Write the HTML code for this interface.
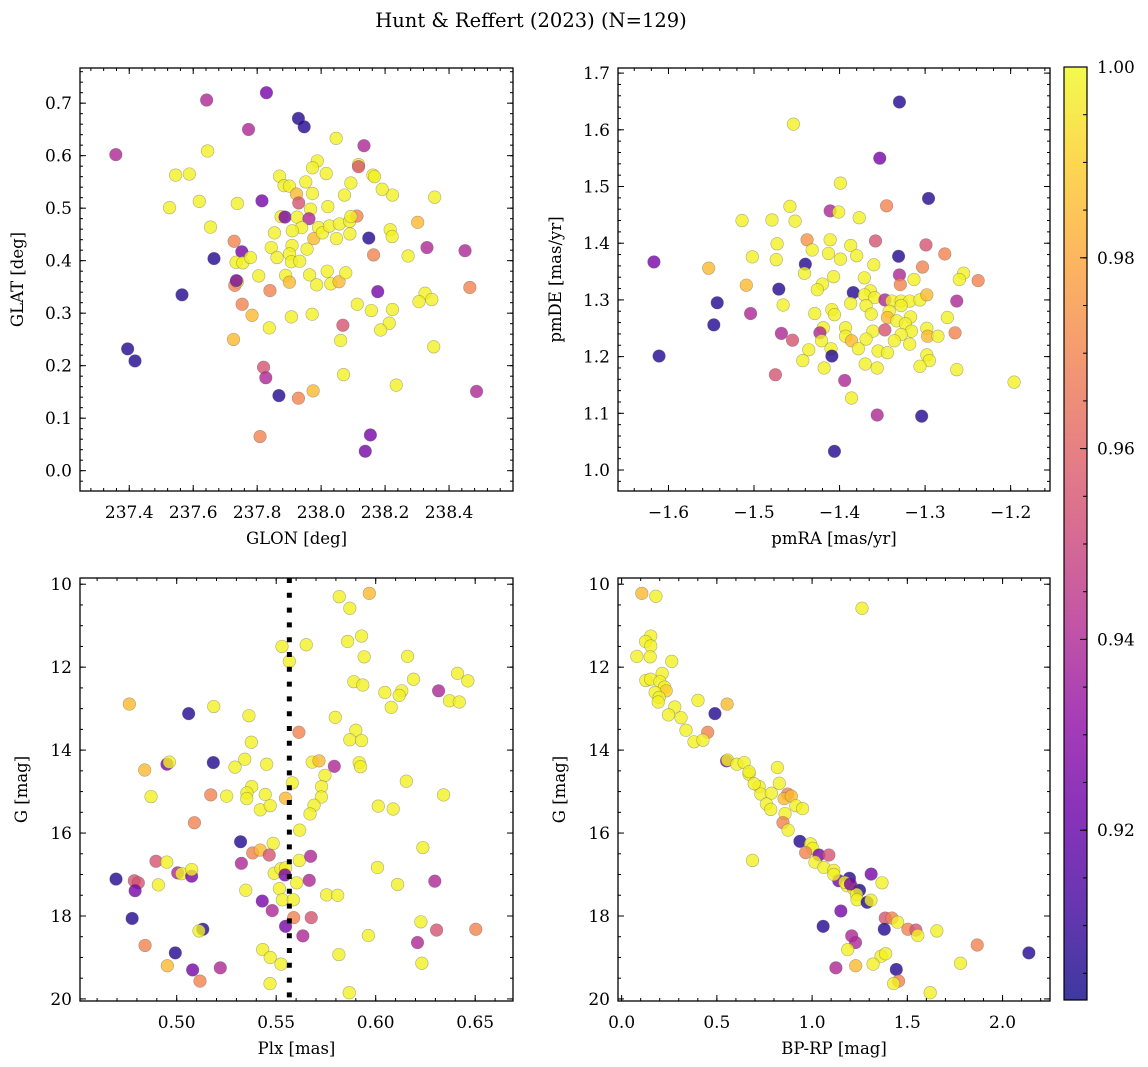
<!DOCTYPE html>
<html><head><meta charset="utf-8"><style>
html,body{margin:0;padding:0;background:#fff;}
svg{display:block;font-family:"DejaVu Serif","Liberation Serif",serif;}
</style></head><body>
<svg id="fig" width="1148" height="1067" viewBox="0 0 1148 1067" xmlns="http://www.w3.org/2000/svg">
<defs>
<linearGradient id="cbg" x1="0" y1="1" x2="0" y2="0">
<stop offset="0" stop-color="#0d0887"/><stop offset="0.1" stop-color="#41049d"/><stop offset="0.2" stop-color="#6a00a8"/><stop offset="0.3" stop-color="#8f0da4"/><stop offset="0.4" stop-color="#b12a90"/><stop offset="0.5" stop-color="#cc4778"/><stop offset="0.6" stop-color="#e16462"/><stop offset="0.7" stop-color="#f2844b"/><stop offset="0.8" stop-color="#fca636"/><stop offset="0.9" stop-color="#fcce25"/><stop offset="1" stop-color="#f0f921"/>
</linearGradient>
</defs>
<text x="531" y="27" font-size="19.5" text-anchor="middle">Hunt &amp; Reffert (2023) (N=129)</text>
</svg>
<script>
// ---- data ----
const tlLon=[237.358,237.642,237.829,237.773,237.929,237.947,238.047,238.134,237.645,237.545,237.588,237.526,237.619,237.654,237.665,237.565,237.395,237.418,237.738,237.815,237.728,237.752,237.734,237.755,237.779,237.730,237.738,237.805,237.840,237.753,237.784,237.838,237.726,237.907,237.972,237.820,237.827,237.868,237.929,237.975,237.809,238.154,238.138,238.070,238.061,238.068,238.235,238.486,238.352,238.465,238.450,238.331,238.272,238.355,238.302,238.223,238.191,238.162,238.167,238.117,238.117,238.093,238.073,238.016,237.988,237.973,237.952,237.870,237.884,237.901,237.923,237.930,237.973,237.967,238.021,237.875,237.887,237.925,237.962,237.939,237.910,237.854,237.992,237.977,238.004,238.026,238.057,238.089,238.112,238.093,238.090,238.048,238.149,238.216,238.222,238.164,238.177,238.113,238.157,238.223,238.213,238.186,238.325,238.306,238.346,237.844,237.909,237.901,237.862,237.907,237.933,237.956,237.889,237.901,237.964,237.986,238.019,238.030,238.056,238.077,237.735];
const tlLat=[0.602,0.706,0.720,0.650,0.671,0.655,0.633,0.619,0.609,0.563,0.565,0.501,0.513,0.464,0.404,0.335,0.232,0.209,0.509,0.514,0.437,0.417,0.397,0.396,0.406,0.353,0.360,0.371,0.343,0.317,0.296,0.272,0.250,0.293,0.298,0.197,0.177,0.143,0.138,0.152,0.065,0.068,0.037,0.183,0.248,0.277,0.163,0.151,0.236,0.349,0.419,0.425,0.409,0.521,0.473,0.525,0.536,0.563,0.560,0.583,0.579,0.548,0.525,0.566,0.590,0.577,0.550,0.561,0.543,0.542,0.527,0.510,0.528,0.498,0.503,0.484,0.483,0.483,0.480,0.463,0.457,0.453,0.463,0.442,0.453,0.466,0.470,0.475,0.485,0.484,0.451,0.442,0.443,0.459,0.446,0.411,0.341,0.317,0.305,0.307,0.281,0.268,0.338,0.322,0.326,0.425,0.429,0.413,0.406,0.398,0.399,0.422,0.372,0.359,0.373,0.354,0.380,0.356,0.360,0.377,0.362];
const tlProb=[.94,.94,.925,.94,.906,.906,.998,.94,.998,.998,.998,.998,.998,.998,.906,.906,.906,.906,.998,.925,.97,.925,.998,.998,.998,.97,.998,.998,.97,.97,.985,.998,.985,.998,.998,.955,.94,.906,.97,.985,.97,.925,.925,.998,.998,.955,.998,.94,.998,.97,.94,.94,.998,.998,.985,.998,.998,.998,.998,.998,.955,.998,.998,.998,.998,.998,.998,.998,.998,.998,.985,.955,.998,.998,.998,.998,.925,.998,.94,.998,.998,.998,.998,.985,.998,.998,.998,.998,.97,.998,.998,.998,.906,.998,.998,.97,.925,.998,.998,.998,.998,.998,.998,.998,.998,.998,.998,.998,.998,.998,.998,.998,.998,.985,.998,.998,.998,.998,.985,.998,.925];

const trRA=[-1.330,-1.454,-1.353,-1.399,-1.296,-1.345,-1.458,-1.411,-1.401,-1.377,-1.514,-1.479,-1.452,-1.438,-1.411,-1.432,-1.473,-1.502,-1.474,-1.617,-1.553,-1.413,-1.399,-1.387,-1.380,-1.358,-1.331,-1.299,-1.277,-1.360,-1.303,-1.440,-1.441,-1.407,-1.330,-1.371,-1.329,-1.313,-1.255,-1.260,-1.238,-1.509,-1.471,-1.420,-1.426,-1.384,-1.364,-1.371,-1.359,-1.347,-1.339,-1.328,-1.318,-1.306,-1.298,-1.263,-1.543,-1.466,-1.387,-1.369,-1.328,-1.342,-1.409,-1.406,-1.429,-1.504,-1.317,-1.344,-1.333,-1.274,-1.547,-1.419,-1.393,-1.323,-1.316,-1.361,-1.423,-1.468,-1.347,-1.328,-1.298,-1.297,-1.285,-1.265,-1.455,-1.421,-1.393,-1.386,-1.369,-1.336,-1.410,-1.436,-1.378,-1.355,-1.344,-1.318,-1.409,-1.298,-1.295,-1.611,-1.443,-1.370,-1.356,-1.418,-1.306,-1.263,-1.196,-1.475,-1.394,-1.386,-1.356,-1.304,-1.406,-1.363];
const trDE=[1.649,1.610,1.550,1.506,1.479,1.466,1.465,1.457,1.455,1.445,1.440,1.441,1.439,1.406,1.406,1.388,1.399,1.376,1.371,1.367,1.356,1.382,1.372,1.396,1.378,1.404,1.377,1.397,1.381,1.362,1.358,1.363,1.347,1.341,1.344,1.339,1.327,1.336,1.347,1.336,1.334,1.326,1.319,1.328,1.318,1.313,1.316,1.309,1.304,1.300,1.298,1.298,1.298,1.300,1.309,1.298,1.295,1.291,1.294,1.290,1.290,1.280,1.283,1.274,1.276,1.276,1.270,1.269,1.263,1.269,1.256,1.251,1.251,1.258,1.245,1.245,1.242,1.241,1.247,1.239,1.250,1.236,1.236,1.242,1.229,1.228,1.236,1.228,1.231,1.228,1.214,1.212,1.214,1.210,1.207,1.222,1.201,1.203,1.193,1.201,1.193,1.187,1.180,1.180,1.183,1.177,1.155,1.168,1.158,1.127,1.097,1.095,1.033,1.275];
const trProb=[.906,.998,.925,.998,.906,.97,.998,.94,.998,.998,.998,.998,.998,.975,.998,.998,.998,.998,.998,.925,.985,.998,.998,.998,.998,.955,.906,.955,.97,.998,.97,.906,.998,.998,.94,.998,.97,.998,.998,.998,.97,.985,.906,.998,.998,.906,.998,.998,.998,.94,.998,.998,.998,.998,.985,.94,.906,.998,.998,.998,.998,.998,.998,.998,.998,.94,.998,.985,.998,.998,.906,.998,.998,.998,.998,.998,.94,.94,.955,.998,.998,.985,.998,.97,.955,.998,.998,.985,.998,.998,.998,.998,.998,.998,.998,.998,.906,.998,.998,.906,.998,.998,.998,.998,.998,.998,.998,.955,.94,.998,.94,.906,.906,.998];

const blPlx=[.5817,.5968,.5870,.5859,.5929,.5942,.5529,.5651,.5566,.6160,.6190,.6411,.6463,.5890,.5935,.6046,.6131,.6118,.6078,.6316,.6371,.6420,.4762,.5060,.5186,.5363,.5797,.5375,.5614,.5900,.5870,.5929,.4951,.4963,.4839,.5184,.5293,.5342,.5452,.5681,.5715,.5792,.5917,.5924,.5745,.5581,.6154,.4871,.5171,.5251,.5377,.5353,.5352,.5445,.5420,.5470,.5547,.5728,.5727,.5690,.5670,.6013,.6088,.6341,.5089,.5618,.5321,.5485,.5382,.5420,.5465,.5325,.5616,.5673,.6237,.4896,.4950,.4695,.4787,.4807,.4791,.4908,.5005,.5025,.5075,.5075,.5490,.5524,.5547,.5544,.5603,.5666,.6009,.6110,.6297,.5347,.5516,.5430,.5531,.5586,.5753,.5809,.5480,.4776,.5588,.5676,.5547,.5131,.5112,.5634,.5963,.6227,.6306,.6503,.6210,.4841,.4993,.5432,.5470,.5524,.5815,.6232,.4953,.5080,.5219,.5117,.5469,.5867];
const blG=[10.30,10.22,10.58,11.38,11.25,11.75,11.50,11.46,11.86,11.74,12.29,12.15,12.33,12.35,12.43,12.61,12.57,12.68,12.97,12.57,12.81,12.84,12.89,13.12,12.95,13.17,13.21,13.81,13.57,13.52,13.75,13.77,14.34,14.29,14.48,14.30,14.41,14.22,14.34,14.29,14.26,14.39,14.30,14.40,14.61,14.79,14.75,15.12,15.08,15.11,14.88,15.03,15.17,15.07,15.44,15.34,15.16,14.88,15.13,15.33,15.54,15.35,15.42,15.08,15.75,15.93,16.21,16.25,16.48,16.41,16.53,16.73,16.66,16.56,16.35,16.68,16.70,17.11,17.15,17.20,17.39,17.25,16.96,16.98,17.04,16.88,16.97,16.86,16.84,17.01,17.20,17.14,16.83,17.24,17.16,17.38,17.34,17.64,17.61,17.61,17.49,17.50,17.87,18.06,18.04,18.04,18.25,18.32,18.36,18.48,18.47,18.14,18.34,18.32,18.64,18.71,18.89,18.81,19.00,19.16,18.93,19.14,19.20,19.30,19.25,19.57,19.63,19.85];
const blProb=[.998,.985,.998,.998,.998,.998,.998,.998,.998,.998,.998,.998,.998,.998,.998,.998,.998,.998,.998,.94,.998,.998,.985,.906,.998,.998,.998,.998,.97,.998,.998,.998,.925,.998,.985,.906,.998,.998,.998,.998,.985,.94,.998,.998,.998,.998,.998,.998,.97,.998,.998,.998,.998,.998,.998,.998,.985,.998,.998,.998,.998,.998,.998,.998,.97,.998,.906,.998,.97,.985,.955,.94,.998,.94,.998,.955,.998,.906,.955,.955,.925,.998,.94,.998,.925,.998,.998,.998,.998,.925,.998,.94,.998,.998,.94,.998,.998,.925,.998,.998,.998,.998,.94,.906,.97,.955,.925,.906,.998,.94,.998,.998,.955,.97,.94,.97,.906,.998,.998,.998,.998,.998,.985,.925,.94,.97,.998,.998];
const plxRef=[0.5566];

const brColor=[.106,.180,1.262,.153,.126,.153,.080,.150,.263,.213,.127,.152,.201,.225,.234,.176,.197,.192,.401,.554,.490,.279,.246,.312,.338,.452,.380,.427,.551,.556,.605,.643,.669,.818,.722,.828,.731,.786,.872,.853,.891,.760,.783,.915,.950,.858,.847,.874,.936,.992,1.003,.966,1.036,1.088,1.015,.687,1.062,1.114,1.140,1.196,1.114,1.310,1.367,1.184,1.219,1.249,1.233,1.236,1.289,1.309,1.151,1.384,1.419,1.449,1.058,1.379,1.503,1.545,1.555,1.655,1.208,1.228,1.187,1.867,2.138,1.362,1.386,1.320,1.229,1.125,1.442,1.779,1.454,1.428,1.620,1.172,1.201,.696,.669];
const brG=[10.22,10.29,10.58,11.25,11.38,11.49,11.74,11.75,11.86,12.15,12.32,12.29,12.35,12.48,12.57,12.61,12.73,12.84,12.80,12.89,13.12,12.96,13.15,13.22,13.52,13.57,13.80,13.76,14.26,14.24,14.34,14.30,14.58,14.42,14.88,14.80,15.06,15.04,15.06,15.17,15.11,15.30,15.43,15.34,15.41,15.53,15.75,15.93,16.20,16.26,16.37,16.47,16.53,16.53,16.70,16.66,16.83,16.90,17.15,17.09,17.00,16.99,17.20,17.27,17.35,17.38,17.48,17.61,17.67,17.62,17.88,18.05,18.05,18.15,18.25,18.32,18.32,18.34,18.47,18.36,18.48,18.64,18.81,18.70,18.89,18.97,18.91,19.16,19.20,19.25,19.29,19.14,19.57,19.63,19.85,17.19,17.23,14.81,14.52];
const brProb=[.985,.998,.998,.998,.998,.998,.998,.998,.998,.998,.998,.998,.998,.998,.99,.998,.998,.998,.998,.985,.906,.998,.998,.998,.998,.97,.998,.998,.925,.998,.998,.998,.998,.998,.998,.998,.998,.998,.97,.985,.985,.998,.998,.998,.998,.998,.97,.998,.906,.998,.998,.97,.925,.955,.998,.998,.998,.998,.925,.906,.998,.925,.998,.998,.998,.906,.998,.998,.906,.998,.925,.955,.97,.998,.906,.906,.97,.955,.998,.998,.94,.94,.998,.97,.906,.998,.998,.998,.985,.94,.906,.998,.97,.998,.998,.998,.925,.998,.998];

const cbTicks=[0.92,0.94,0.96,0.98,1.00];

// ---- rendering ----
const NS='http://www.w3.org/2000/svg';
const svg=document.getElementById('fig');
function mk(tag,attrs,parent){const e=document.createElementNS(NS,tag);for(const k in attrs)e.setAttribute(k,attrs[k]);(parent||svg).appendChild(e);return e;}
const stops=[[13,8,135],[65,4,157],[106,0,168],[143,13,164],[177,42,144],[204,71,120],[225,100,98],[242,132,75],[252,166,54],[252,206,37],[240,249,33]];
const VMIN=0.9022,VMAX=1.0;
function plasma(p){let t=(p-VMIN)/(VMAX-VMIN);t=Math.max(0,Math.min(1,t));const f=t*10;const i=Math.min(9,Math.floor(f));const r=f-i;const a=stops[i],b=stops[i+1];return 'rgb('+a.map((v,k)=>Math.round(v+(b[k]-v)*r)).join(',')+')';}
function fmt(v,d){const s=Math.abs(v).toFixed(d);return (v<0?'\u2212':'')+s;}

function panel(o){
  const L=o.box[0],T=o.box[1],R=o.box[2],B=o.box[3];
  const sx=v=>L+(v-o.xr[0])/(o.xr[1]-o.xr[0])*(R-L);
  const sy=o.yinv?(v=>T+(v-o.yr[0])/(o.yr[1]-o.yr[0])*(B-T)):(v=>B-(v-o.yr[0])/(o.yr[1]-o.yr[0])*(B-T));
  const g=mk('g',{});
  
  
  const pts=mk('g',{},g);
  
  
  const n=Math.min(o.x.length,o.y.length,o.p.length);
  for(let i=0;i<n;i++){
    const c=mk('circle',{cx:sx(o.x[i]).toFixed(2),cy:sy(o.y[i]).toFixed(2),r:6.3,fill:plasma(o.p[i]),'fill-opacity':0.8,stroke:'#555','stroke-opacity':0.45,'stroke-width':0.6},pts);
    
    
  }
  if(o.vline){for(const v of o.vline){const l=mk('line',{x1:sx(v),x2:sx(v),y1:T,y2:B,stroke:'#000','stroke-width':5,'stroke-dasharray':'5 9.8'},g);
    
    }}
  const fr=mk('rect',{x:L,y:T,width:R-L,height:B-T,fill:'none',stroke:'#000','stroke-width':1.3},g);
  
  
  const tk=mk('g',{stroke:'#000','stroke-width':1},g);
  
  
  function ticks(range,step){const a=Math.ceil(range[0]/step-1e-6),b=Math.floor(range[1]/step+1e-6);const out=[];for(let k=a;k<=b;k++)out.push(k*step);return out;}
  for(const v of ticks(o.xr,o.xminor)){const x=sx(v);mk('line',{x1:x,x2:x,y1:B,y2:B-3},tk);mk('line',{x1:x,x2:x,y1:T,y2:T+3},tk);}
  for(const v of ticks(o.yr,o.yminor)){const y=sy(v);mk('line',{x1:L,x2:L+3,y1:y,y2:y},tk);mk('line',{x1:R,x2:R-3,y1:y,y2:y},tk);}
  for(const v of o.xt){const x=sx(v);mk('line',{x1:x,x2:x,y1:B,y2:B-6},tk);mk('line',{x1:x,x2:x,y1:T,y2:T+6},tk);
    const t=mk('text',{x:x,y:B+27,'font-size':17,'text-anchor':'middle'},g);t.textContent=fmt(v,o.xd);
    
    }
  for(const v of o.yt){const y=sy(v);mk('line',{x1:L,x2:L+6,y1:y,y2:y},tk);mk('line',{x1:R,x2:R-6,y1:y,y2:y},tk);
    const t=mk('text',{x:L-8,y:y+6,'font-size':17,'text-anchor':'end'},g);t.textContent=fmt(v,o.yd);
    
    }
  const xl=mk('text',{x:(L+R)/2,y:B+53,'font-size':16.5,'text-anchor':'middle'},g);xl.textContent=o.xlabel;
  
  
  const yx=o.ylx,yc=(T+B)/2;
  const yl=mk('text',{x:yx,y:yc,'font-size':16.5,'text-anchor':'middle',transform:'rotate(-90 '+yx+' '+yc+')'},g);yl.textContent=o.ylabel;
  
  
}

panel({name:'glon-glat-panel',box:[80,68,513,491],xr:[237.246,238.600],yr:[-0.0387,0.767],x:tlLon,y:tlLat,p:tlProb,
  xt:[237.4,237.6,237.8,238.0,238.2,238.4],xd:1,xminor:0.04,yt:[0,0.1,0.2,0.3,0.4,0.5,0.6,0.7],yd:1,yminor:0.02,xlabel:'GLON [deg]',ylabel:'GLAT [deg]',ylx:23});
panel({name:'pm-panel',box:[618,68,1050,491],xr:[-1.659,-1.154],yr:[0.963,1.709],x:trRA,y:trDE,p:trProb,
  xt:[-1.6,-1.5,-1.4,-1.3,-1.2],xd:1,xminor:0.02,yt:[1.0,1.1,1.2,1.3,1.4,1.5,1.6,1.7],yd:1,yminor:0.02,xlabel:'pmRA [mas/yr]',ylabel:'pmDE [mas/yr]',ylx:561});
panel({name:'plx-g-panel',box:[80,578,513,1001],xr:[0.4514,0.669],yr:[9.85,20.05],yinv:true,x:blPlx,y:blG,p:blProb,vline:plxRef,
  xt:[0.50,0.55,0.60,0.65],xd:2,xminor:0.01,yt:[10,12,14,16,18,20],yd:0,yminor:0.5,xlabel:'Plx [mas]',ylabel:'G [mag]',ylx:27});
panel({name:'cmd-panel',box:[618,578,1050,1001],xr:[-0.019,2.249],yr:[9.85,20.05],yinv:true,x:brColor,y:brG,p:brProb,
  xt:[0,0.5,1.0,1.5,2.0],xd:1,xminor:0.1,yt:[10,12,14,16,18,20],yd:0,yminor:0.5,xlabel:'BP-RP [mag]',ylabel:'G [mag]',ylx:565});

// colorbar
(function(){
  const L=1064,R=1087,T=67,B=1000;
  const g=mk('g',{});
  
  
  mk('rect',{x:L,y:T,width:R-L,height:B-T,fill:'url(#cbg)','fill-opacity':0.8},g);
  mk('rect',{x:L,y:T,width:R-L,height:B-T,fill:'none',stroke:'#000','stroke-width':1.2},g);
  const sy=v=>B-(v-VMIN)/(VMAX-VMIN)*(B-T);
  for(let v=0.905;v<=1.0001;v+=0.005){const y=sy(v);mk('line',{x1:R,x2:R-4,y1:y,y2:y,stroke:'#000'},g);}
  for(const v of cbTicks){const y=sy(v);mk('line',{x1:R,x2:R-7,y1:y,y2:y,stroke:'#000'},g);
    const t=mk('text',{x:R+10,y:y+6,'font-size':17},g);t.textContent=v.toFixed(2);
    
    }
})();
</script>
</body></html>
